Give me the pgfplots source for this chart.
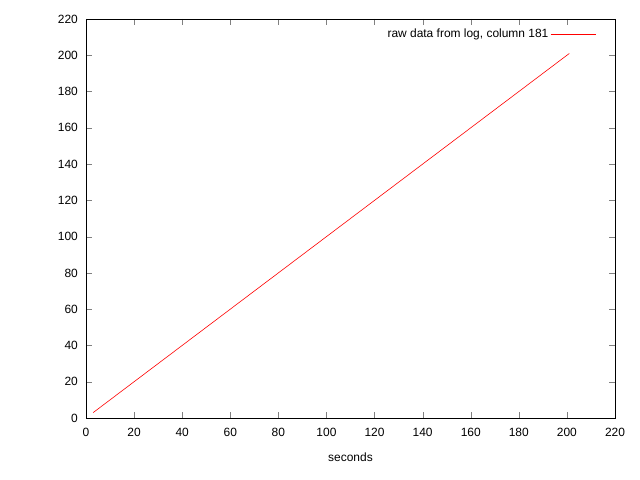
\documentclass[border=0pt]{standalone}
\usepackage{pgfplots}
\pgfplotsset{compat=1.18}
\usepackage{fontspec}
\setmainfont{Liberation Sans}
\begin{document}
\fontsize{12}{14}\selectfont
\begin{tikzpicture}
\useasboundingbox (0,0) rectangle (640bp,480bp);
\begin{axis}[
  at={(86bp,62bp)}, anchor=south west,
  width=529bp, height=399bp, scale only axis,
  xmin=0, xmax=220, ymin=0, ymax=220,
  xtick={0,20,...,220}, ytick={0,20,...,220},
  tick align=inside, xtick pos=both, ytick pos=both,
  major tick length=6bp,
  /pgf/number format/assume math mode=true,
  tick label style={font=\fontsize{12}{14}\selectfont},
  xticklabel style={yshift=-6bp},
  yticklabel style={xshift=-4bp},
  xlabel={seconds}, xlabel style={yshift=-8bp, font=\fontsize{12}{14}\selectfont},
  axis line style={black, line width=0.5pt},
  legend style={draw=none, fill=none, at={(0.97,0.985)}, anchor=north east, font=\fontsize{12}{14}\selectfont},
  legend plot pos=right,
  legend cell align=right,
  legend image code/.code={\draw[red, line width=0.6pt] (0,0) -- (45bp,0);},
]
\addplot[red, line width=0.6pt] coordinates {(3,3) (201,201)};
\addlegendentry{raw data from log, column 181}
\end{axis}
\end{tikzpicture}
\end{document}
